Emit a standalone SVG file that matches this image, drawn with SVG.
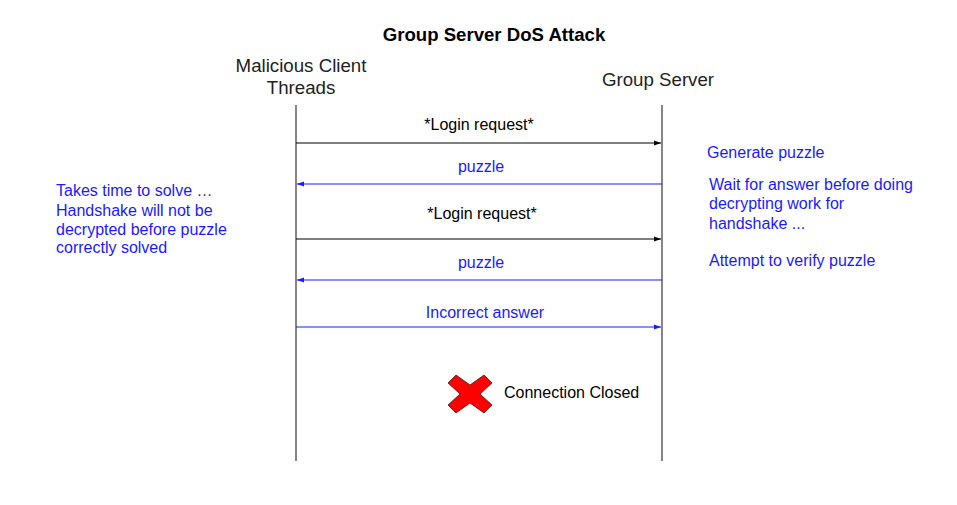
<svg xmlns="http://www.w3.org/2000/svg" width="957" height="505" viewBox="0 0 957 505">
<defs>
<style>
text{font-family:"Liberation Sans",Arial,sans-serif;}
.title{font-size:18.6px;font-weight:bold;fill:#000;}
.actor{font-size:18.7px;fill:#222;}
.msg{font-size:16px;text-anchor:middle;}
.note{font-size:16px;fill:#1a1aff;}
.life{stroke:#444;stroke-width:1.3;fill:none;}
.blk{stroke:#000;stroke-width:1;fill:none;}
.blu{stroke:#1a1aff;stroke-width:1;fill:none;}
</style>
<marker id="ab" markerWidth="8" markerHeight="6" refX="7" refY="3" orient="auto" markerUnits="userSpaceOnUse"><path d="M0,0.5 L7,3 L0,5.5 Z" fill="#000"/></marker>
<marker id="au" markerWidth="8" markerHeight="6" refX="7" refY="3" orient="auto" markerUnits="userSpaceOnUse"><path d="M0,0.5 L7,3 L0,5.5 Z" fill="#1a1aff"/></marker>
</defs>
<rect width="957" height="505" fill="#fff"/>
<text class="title" x="494" y="41" text-anchor="middle">Group Server DoS Attack</text>
<g id="client">
<text class="actor" x="301" y="72" text-anchor="middle">Malicious Client</text>
<text class="actor" x="301" y="94" text-anchor="middle">Threads</text>
<line class="life" x1="296" y1="105" x2="296" y2="461"/>
</g>
<g id="server">
<text class="actor" x="658" y="86" text-anchor="middle">Group Server</text>
<line class="life" x1="662" y1="105" x2="662" y2="461"/>
</g>
<g id="connectors">
<line class="blk" x1="296" y1="143" x2="661" y2="143" marker-end="url(#ab)"/>
<text class="msg" x="479" y="130" fill="#000">*Login request*</text>
<line class="blu" x1="662" y1="184" x2="297" y2="184" marker-end="url(#au)"/>
<text class="msg" x="481" y="172" fill="#1a1aff">puzzle</text>
<line class="blk" x1="296" y1="239" x2="661" y2="239" marker-end="url(#ab)"/>
<text class="msg" x="482" y="219" fill="#000">*Login request*</text>
<line class="blu" x1="662" y1="280" x2="297" y2="280" marker-end="url(#au)"/>
<text class="msg" x="481" y="268" fill="#1a1aff">puzzle</text>
<line class="blu" x1="296" y1="327" x2="661" y2="327" marker-end="url(#au)"/>
<text class="msg" x="485" y="318" fill="#1a1aff">Incorrect answer</text>
</g>
<g id="client-note">
<text class="note" x="56" y="196">Takes time to solve …</text>
<text class="note" x="56" y="216">Handshake will not be</text>
<text class="note" x="56" y="235">decrypted before puzzle</text>
<text class="note" x="56" y="253">correctly solved</text>
</g>
<g id="server-notes">
<text class="note" x="707" y="158">Generate puzzle</text>
<text class="note" x="709" y="190">Wait for answer before doing</text>
<text class="note" x="709" y="209">decrypting work for</text>
<text class="note" x="709" y="229">handshake ...</text>
<text class="note" x="709" y="266">Attempt to verify puzzle</text>
</g>
<g id="closed">
<polygon points="456,375 470,385 484,375 492,383 480,394 492,405 484,413 470,403 456,413 448,405 460,394 448,383" fill="#ff0000" stroke="#551111" stroke-width="0.8" stroke-linejoin="round"/>
<text x="504" y="398" font-size="16" fill="#000">Connection Closed</text>
</g>
</svg>
